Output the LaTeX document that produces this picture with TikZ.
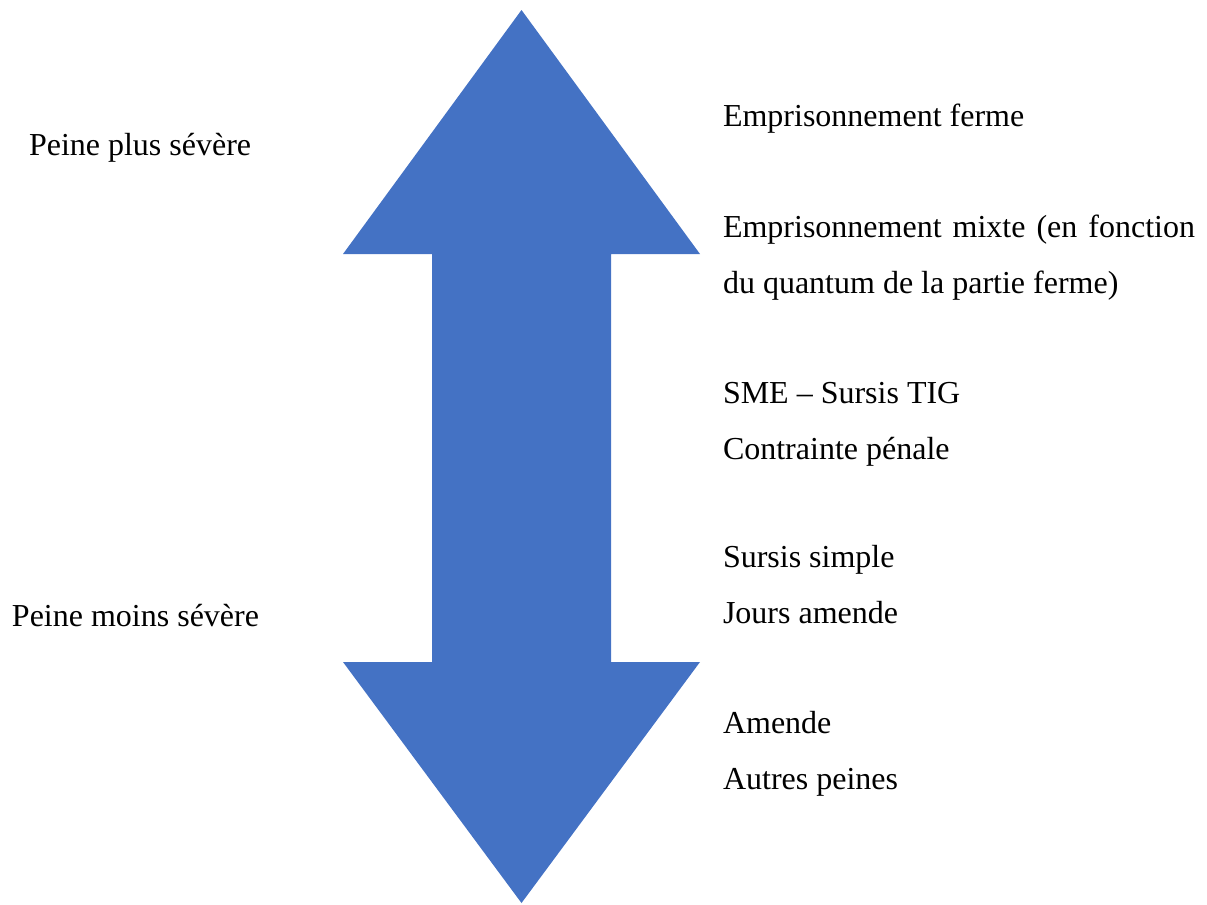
\documentclass[tikz,border=0pt]{standalone}
\usepackage{fontspec}
\setmainfont{Liberation Serif}
\usepackage{tikz}
\usetikzlibrary{positioning}
\usepackage{xcolor}
\definecolor{arrowblue}{HTML}{4472C4}

\begin{document}
\begin{tikzpicture}[x=0.75pt, y=-0.75pt, every node/.style={font=\fontsize{24pt}{29pt}\selectfont}]
\tikzset{lbl/.style={anchor=base west, inner sep=0pt, outer sep=0pt}}
\tikzset{bigarrow/.style={fill=arrowblue}}
\useasboundingbox (0,0) rectangle (1207,904);
% double arrow
\fill[bigarrow] (521.5,10) -- (700,254) -- (611,254) -- (611,662) -- (700,662)
  -- (521.5,903) -- (343,662) -- (432,662) -- (432,254) -- (343,254) -- cycle;
% left side
\node[lbl] (plus) at (29,155) {Peine plus sévère};
\node[lbl] (moins) at (12,626) {Peine moins sévère};
% right side
\node[lbl] (ferme) at (723,126) {Emprisonnement ferme};
\node[lbl] (mixte) at (723,237) {\makebox[354pt][s]{Emprisonnement mixte (en fonction}};
\node[lbl] (quantum) at (723,293) {du quantum de la partie ferme)};
\node[lbl] (sme) at (723,403) {SME – Sursis TIG};
\node[lbl] (contr) at (723,459) {Contrainte pénale};
\node[lbl] (simple) at (723,567) {Sursis simple};
\node[lbl] (jours) at (723,623) {Jours amende};
\node[lbl] (amende) at (723,733) {Amende};
\node[lbl] (autres) at (723,789) {Autres peines};
\end{tikzpicture}
\end{document}
